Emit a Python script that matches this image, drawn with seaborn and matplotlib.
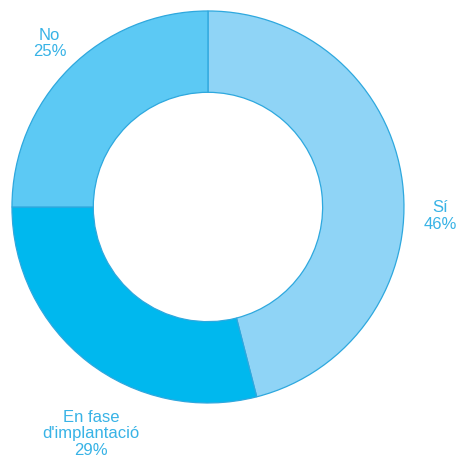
import matplotlib
matplotlib.use("Agg")
import matplotlib.pyplot as plt
import seaborn as sns

# Survey answers and their shares (%)
categories = ["Sí", "En fase\nd'implantació", "No"]
values = [46, 29, 25]
colors = ["#8fd4f6", "#00b8ee", "#5cc9f4"]

sns.set_theme(style="white")
plt.rcParams["font.family"] = ["Liberation Sans", "DejaVu Sans"]

fig = plt.figure(figsize=(4.62, 4.61), dpi=100)
ax = fig.add_axes([0, 0, 1, 1])

wedges, _ = ax.pie(
    values,
    colors=colors,
    startangle=90,
    counterclock=False,
    radius=1.0,
    wedgeprops=dict(width=0.415, edgecolor="#2ea8de", linewidth=0.9),
)

# label placement (data units, pie radius = 1)
label_pos = [(1.184, -0.046), (-0.597, -1.158), (-0.809, 0.834)]
for cat, val, (x, y) in zip(categories, values, label_pos):
    ax.text(x, y, f"{cat}\n{val}%", ha="center", va="center",
            color="#38b3e6", fontsize=12, linespacing=1.12)

ax.set_xlim(-1.061, 1.296)
ax.set_ylim(-1.296, 1.056)
ax.set_aspect("equal")
ax.axis("off")

fig.savefig("out.png", dpi=100, facecolor="white")
